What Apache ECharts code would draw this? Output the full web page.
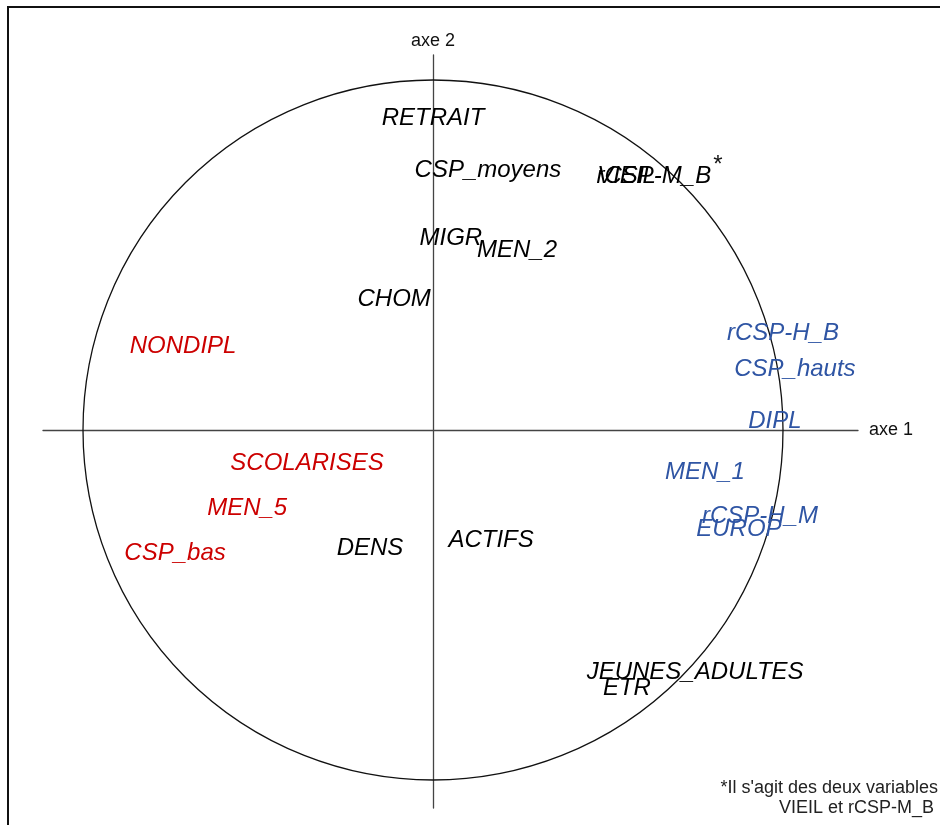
<!DOCTYPE html>
<html>
<head>
<meta charset="utf-8">
<script src="https://cdn.jsdelivr.net/npm/echarts@6/dist/echarts.min.js"></script>
<style>
  html, body { margin: 0; padding: 0; background: #fff; }
  #chart { width: 940px; height: 825px; }
</style>
</head>
<body>
<div id="chart"></div>
<script>
// Cercle des corrélations : coordonnées des variables sur les axes 1 et 2

// Variables liées au pôle "populaire" (rouge)
const redNames = ['NONDIPL', 'SCOLARISES', 'MEN_5', 'CSP_bas'];
const redX     = [-0.714, -0.360, -0.531, -0.737];
const redY     = [ 0.238, -0.096, -0.225, -0.352];

// Variables neutres (noir)
const blackNames = ['RETRAIT', 'CSP_moyens', 'VIEIL', 'rCSP-M_B', 'MIGR', 'MEN_2', 'CHOM', 'DENS', 'ACTIFS', 'JEUNES_ADULTES', 'ETR'];
const blackX     = [0.000, 0.157, 0.553, 0.631, 0.051, 0.240, -0.111, -0.180, 0.166, 0.749, 0.554];
const blackY     = [0.891, 0.743, 0.726, 0.726, 0.549, 0.514,  0.374, -0.339, -0.314, -0.691, -0.737];

// Variables liées au pôle "aisé" (bleu)
const blueNames = ['rCSP-H_B', 'CSP_hauts', 'DIPL', 'MEN_1', 'rCSP-H_M', 'EUROP'];
const blueX     = [1.000, 1.034, 0.977, 0.777, 0.934, 0.874];
const blueY     = [0.277, 0.174, 0.026, -0.120, -0.246, -0.283];

const axisNames = ['axe 1', 'axe 2'];
const footnote = ['*Il s\'agit des deux variables', 'VIEIL et rCSP-M_B'];

const FONT = '"Liberation Sans", Arial, Helvetica, sans-serif';

function labelSeries(names, xs, ys, color) {
  return {
    type: 'scatter',
    symbol: 'circle',
    symbolSize: 1,
    itemStyle: { color: 'rgba(0,0,0,0)', opacity: 1 },
    silent: true,
    z: 5,
    data: names.map((n, i) => ({ name: n, value: [xs[i], ys[i]] })),
    label: {
      show: true,
      position: 'inside',
      formatter: p => p.name,
      color: color,
      opacity: 1,
      fontFamily: FONT,
      fontStyle: 'italic',
      fontSize: 24,
      align: 'center',
      verticalAlign: 'middle'
    },
    labelLayout: { hideOverlap: false }
  };
}

const chart = echarts.init(document.getElementById('chart'), null, { renderer: 'canvas' });

chart.setOption({
  animation: false,
  backgroundColor: '#ffffff',
  grid: { left: 43, top: 55, width: 815, height: 753, containLabel: false },
  xAxis: {
    type: 'value',
    min: -1.1143, max: 1.2143,
    name: axisNames[0],
    nameLocation: 'end',
    nameGap: 11,
    nameTextStyle: { color: '#111', fontFamily: FONT, fontSize: 18, verticalAlign: 'middle' },
    axisLine: { show: true, onZero: true, lineStyle: { color: '#444', width: 1.3 } },
    axisTick: { show: false },
    axisLabel: { show: false },
    splitLine: { show: false }
  },
  yAxis: {
    type: 'value',
    min: -1.08, max: 1.0714,
    name: axisNames[1],
    nameLocation: 'end',
    nameGap: 5,
    nameTextStyle: { color: '#111', fontFamily: FONT, fontSize: 18, align: 'center' },
    axisLine: { show: true, onZero: true, lineStyle: { color: '#444', width: 1.3 } },
    axisTick: { show: false },
    axisLabel: { show: false },
    splitLine: { show: false }
  },
  series: [
    {
      // cercle de rayon 1
      type: 'custom',
      silent: true,
      z: 1,
      data: [[0, 0]],
      renderItem: function (params, api) {
        const c = api.coord([0, 0]);
        const r = api.size([1, 1])[0];
        return {
          type: 'circle',
          shape: { cx: c[0], cy: c[1], r: r },
          style: { fill: null, stroke: '#111', lineWidth: 1.3 }
        };
      }
    },
    labelSeries(redNames, redX, redY, '#cc0000'),
    labelSeries(blackNames, blackX, blackY, '#000000'),
    labelSeries(blueNames, blueX, blueY, '#2f55a4')
  ],
  graphic: [
    {
      type: 'rect',
      shape: { x: 8, y: 7, width: 1000, height: 1000 },
      style: { fill: null, stroke: '#111', lineWidth: 2 },
      silent: true
    },
    {
      type: 'text',
      x: 718, y: 165,
      style: { text: '*', font: '24px ' + FONT, fill: '#111', align: 'center', verticalAlign: 'middle' }
    },
    {
      type: 'text',
      x: 938, y: 788,
      style: { text: footnote[0], font: '18px ' + FONT, fill: '#222', align: 'right', verticalAlign: 'middle' }
    },
    {
      type: 'text',
      x: 934, y: 808,
      style: { text: footnote[1], font: '18px ' + FONT, fill: '#222', align: 'right', verticalAlign: 'middle' }
    }
  ]
});
</script>
</body>
</html>
